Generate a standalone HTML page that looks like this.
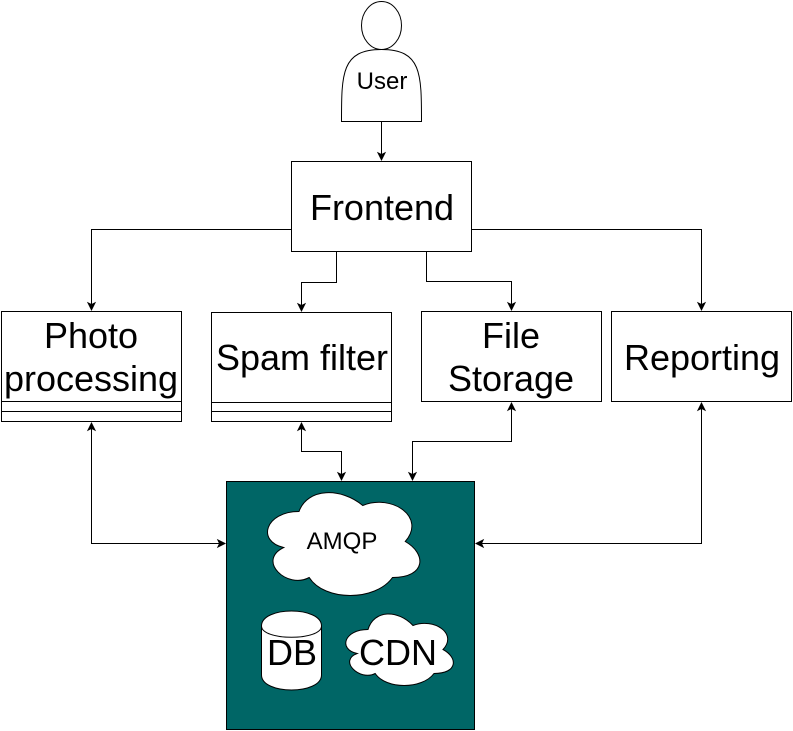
<!DOCTYPE html>
<html>
<head>
<meta charset="utf-8">
<style>
html,body{margin:0;padding:0;background:#fff;}
svg{display:block;}
text{font-family:"Liberation Sans",sans-serif;fill:#000;text-anchor:middle;}
.s{font-size:36px;}
.m{font-size:24px;}
</style>
</head>
<body>
<svg width="793" height="731" viewBox="0 0 793 731" xmlns="http://www.w3.org/2000/svg">
<rect width="793" height="731" fill="#fff"/>
<g fill="#fff" stroke="#000" stroke-width="1">
  <!-- actor -->
  <ellipse cx="381.5" cy="25.5" rx="20" ry="24"/>
  <path d="M341.5 121.5 C341.5 73.5 341.5 49.5 381.5 49.5 C421.5 49.5 421.5 73.5 421.5 121.5 Z"/>
  <!-- boxes -->
  <rect x="291.5" y="161.5" width="180" height="90"/>
  <rect x="1.5" y="311.5" width="180" height="110"/>
  <path d="M1.5 401.5H181.5M1.5 411.5H181.5" fill="none"/>
  <rect x="211.5" y="312.5" width="180" height="109"/>
  <path d="M211.5 402.5H391.5M211.5 411.5H391.5" fill="none"/>
  <rect x="421.5" y="311.5" width="180" height="90"/>
  <rect x="611.5" y="311.5" width="180" height="90"/>
  <!-- container -->
  <rect x="226.5" y="481.5" width="248" height="248" fill="#006666"/>
  <!-- AMQP cloud -->
  <path d="M299 511.5 C265 511.5 256.5 541.5 283.7 547.5 C256.5 560.7 287.1 589.5 309.2 577.5 C324.5 601.5 375.5 601.5 392.5 577.5 C426.5 577.5 426.5 553.5 405.25 541.5 C426.5 517.5 392.5 493.5 362.75 505.5 C341.5 487.5 307.5 487.5 299 511.5 Z"/>
  <!-- DB cylinder -->
  <path d="M261.5 626 C261.5 606 321.5 606 321.5 626 L321.5 675 C321.5 695 261.5 695 261.5 675 Z"/>
  <path d="M261.5 626 C261.5 641 321.5 641 321.5 626" fill="none"/>
  <!-- CDN cloud -->
  <path d="M368 629.5 C344 629.5 338 649.5 357.2 653.5 C338 660.5 359.6 681.5 375.2 673.5 C386 689.5 422 689.5 434 673.5 C458 673.5 458 657.5 443 649.5 C458 633.5 434 617.5 413 625.5 C398 609.5 374 609.5 368 629.5 Z"/>
</g>
<g fill="none" stroke="#000" stroke-width="1">
  <path d="M381.5 121.5V155"/>
  <path d="M291.5 229.5H91.5V305"/>
  <path d="M471.5 229.5H701.5V305"/>
  <path d="M336.5 251.5V282.5H301.5V306"/>
  <path d="M426.5 251.5V281.5H511.5V305"/>
  <path d="M91.5 428V543.5H220"/>
  <path d="M301.5 428V451.5H341.5V475"/>
  <path d="M511.5 408V441.5H412.5V475"/>
  <path d="M701.5 408V543.5H481"/>
</g>
<g fill="#000" stroke="#000" stroke-width="1">
  <path d="M381.5 159.9L378 152.9L381.5 154.6L385 152.9Z"/>
  <path d="M91.5 309.9L88 302.9L91.5 304.6L95 302.9Z"/>
  <path d="M701.5 309.9L698 302.9L701.5 304.6L705 302.9Z"/>
  <path d="M301.5 310.9L298 303.9L301.5 305.6L305 303.9Z"/>
  <path d="M511.5 309.9L508 302.9L511.5 304.6L515 302.9Z"/>
  <path d="M91.5 423.1L88 430.1L91.5 428.4L95 430.1Z"/>
  <path d="M301.5 423.1L298 430.1L301.5 428.4L305 430.1Z"/>
  <path d="M511.5 403.1L508 410.1L511.5 408.4L515 410.1Z"/>
  <path d="M701.5 403.1L698 410.1L701.5 408.4L705 410.1Z"/>
  <path d="M341.5 479.9L338 472.9L341.5 474.6L345 472.9Z"/>
  <path d="M412.5 479.9L409 472.9L412.5 474.6L416 472.9Z"/>
  <path d="M224.9 543.5L217.9 540L219.6 543.5L217.9 547Z"/>
  <path d="M476.1 543.5L483.1 540L481.4 543.5L483.1 547Z"/>
</g>
<text class="m" x="382" y="89">User</text>
<text class="s" x="382" y="220">Frontend</text>
<text class="s" x="91" y="348">Photo</text>
<text class="s" x="91" y="391">processing</text>
<text class="s" x="302" y="370">Spam filter</text>
<text class="s" x="511" y="348">File</text>
<text class="s" x="511" y="391">Storage</text>
<text class="s" x="702" y="370">Reporting</text>
<text class="m" x="342" y="549">AMQP</text>
<text class="s" x="292" y="665">DB</text>
<text class="s" x="398" y="665">CDN</text>
</svg>
</body>
</html>
